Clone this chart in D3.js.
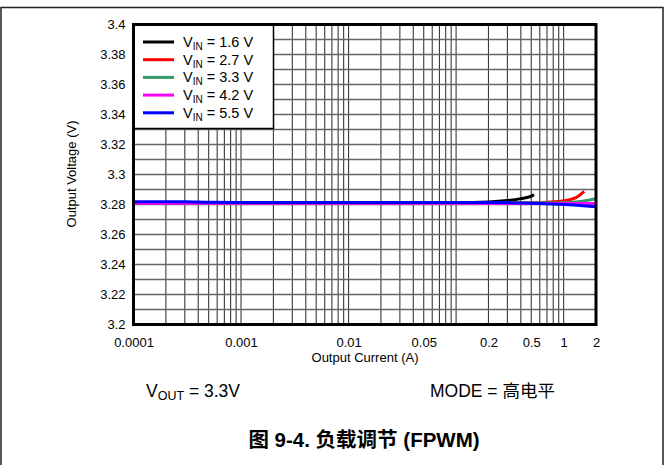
<!DOCTYPE html>
<html>
<head>
<meta charset="utf-8">
<script src="https://cdn.jsdelivr.net/npm/d3@7"></script>
<style>
  body { margin: 0; background: #fff; }
  text { font-family: "Liberation Sans", Arial, "Noto Sans CJK SC", sans-serif; }
  .cjk { font-family: "Liberation Sans", Arial, "Noto Sans CJK SC", sans-serif; }
</style>
</head>
<body>
<svg id="grafico"></svg>
<script>
// dados
const xTicks = [0.0001, 0.001, 0.01, 0.05, 0.2, 0.5, 1, 2];
const xTickLabels = ['0.0001', '0.001', '0.01', '0.05', '0.2', '0.5', '1', '2'];
const yTicks = [3.2, 3.22, 3.24, 3.26, 3.28, 3.3, 3.32, 3.34, 3.36, 3.38, 3.4];
const yTickLabels = ['3.2', '3.22', '3.24', '3.26', '3.28', '3.3', '3.32', '3.34', '3.36', '3.38', '3.4'];
const serieNomes = ['1.6 V', '2.7 V', '3.3 V', '4.2 V', '5.5 V'];
const serieCores = ['#000000', '#ff0000', '#339966', '#ff00ff', '#0000ff'];

const correnteV16 = [0.0001, 0.001, 0.01, 0.1, 0.2, 0.3, 0.4, 0.5, 0.53];
const tensaoV16 = [3.2812, 3.2812, 3.2812, 3.2813, 3.2817, 3.2826, 3.2839, 3.2856, 3.2866];
const correnteV27 = [0.0001, 0.001, 0.01, 0.1, 0.5, 0.7, 1, 1.3, 1.55];
const tensaoV27 = [3.2810, 3.2810, 3.2810, 3.2810, 3.2811, 3.2815, 3.2825, 3.2846, 3.2888];
const correnteV33 = [0.0001, 0.001, 0.01, 0.1, 0.5, 1, 1.5, 2];
const tensaoV33 = [3.2810, 3.2810, 3.2810, 3.2810, 3.2810, 3.2812, 3.2822, 3.2838];
const correnteV42 = [0.0001, 0.001, 0.01, 0.1, 0.5, 1, 2];
const tensaoV42 = [3.2808, 3.2808, 3.2808, 3.2808, 3.2807, 3.2806, 3.2806];
const correnteV55 = [0.0001, 0.0003, 0.0005, 0.001, 0.01, 0.1, 0.2, 0.5, 1, 2];
const tensaoV55 = [3.2818, 3.2818, 3.2815, 3.2814, 3.2814, 3.2814, 3.2813, 3.2809, 3.2800, 3.2785];

const series = [
  { nome: serieNomes[0], cor: serieCores[0], x: correnteV16, y: tensaoV16 },
  { nome: serieNomes[1], cor: serieCores[1], x: correnteV27, y: tensaoV27 },
  { nome: serieNomes[2], cor: serieCores[2], x: correnteV33, y: tensaoV33 },
  { nome: serieNomes[3], cor: serieCores[3], x: correnteV42, y: tensaoV42 },
  { nome: serieNomes[4], cor: serieCores[4], x: correnteV55, y: tensaoV55 }
];

const largura = 666, altura = 465;
const svg = d3.select('#grafico').attr('width', largura).attr('height', altura);

// moldura externa
svg.append('rect')
  .attr('x', 1).attr('y', 7.5).attr('width', 662).attr('height', 470)
  .attr('fill', 'none').attr('stroke', '#222').attr('stroke-width', 1.5);

const margem = { esquerda: 133.5, direita: 596, superior: 24.5, inferior: 324.5 };

const x = d3.scaleLog().domain([0.0001, 2]).range([margem.esquerda, margem.direita]);
const y = d3.scaleLinear().domain([3.2, 3.4]).range([margem.inferior, margem.superior]);

const grade = svg.append('g');

// linhas verticais (log)
const verticais = [];
for (let d = 0.0001; d < 2; d *= 10) {
  for (let m = 1; m <= 9; m++) {
    const v = +(d * m).toPrecision(3);
    if (v > 0.0001 && v < 2) verticais.push(v);
  }
}
grade.selectAll('.vgrid')
  .data(verticais)
  .enter()
  .append('line')
  .attr('x1', d => x(d)).attr('x2', d => x(d))
  .attr('y1', margem.superior).attr('y2', margem.inferior)
  .attr('stroke', '#3a3a3a').attr('stroke-width', 1.1);

// linhas horizontais a cada 0.01
const horizontais = d3.range(1, 20).map(i => 3.2 + i * 0.01);
grade.selectAll('.hgrid')
  .data(horizontais)
  .enter()
  .append('line')
  .attr('x1', margem.esquerda).attr('x2', margem.direita)
  .attr('y1', d => y(d)).attr('y2', d => y(d))
  .attr('stroke', '#666').attr('stroke-width', 1.3);

// eixos
const eixoY = d3.axisLeft(y).tickValues(yTicks).tickSize(0).tickPadding(8)
  .tickFormat((d, i) => yTickLabels[i]);
svg.append('g').attr('transform', `translate(${margem.esquerda},0)`).call(eixoY)
  .call(g => g.select('.domain').remove())
  .selectAll('text').attr('font-size', 13).attr('fill', '#000')
  .style('font-family', '"Liberation Sans", Arial, sans-serif');

const eixoX = d3.axisBottom(x).tickValues(xTicks).tickSize(0).tickPadding(13)
  .tickFormat((d, i) => xTickLabels[i]);
svg.append('g').attr('transform', `translate(0,${margem.inferior})`).call(eixoX)
  .call(g => g.select('.domain').remove())
  .selectAll('text').attr('font-size', 13).attr('fill', '#000')
  .style('font-family', '"Liberation Sans", Arial, sans-serif');

// linhas das series
const linha = d3.line()
  .x(d => x(d[0]))
  .y(d => y(d[1]))
  .curve(d3.curveMonotoneX);

svg.selectAll('.serie')
  .data(series)
  .enter()
  .append('path')
  .attr('d', s => linha(s.x.map((v, i) => [v, s.y[i]])))
  .attr('fill', 'none')
  .attr('stroke', s => s.cor)
  .attr('stroke-width', 3);

// legenda
const legenda = svg.append('g');
legenda.append('rect')
  .attr('x', margem.esquerda).attr('y', margem.superior)
  .attr('width', 140).attr('height', 104)
  .attr('fill', '#fff').attr('stroke', '#000').attr('stroke-width', 1.5);

const itens = legenda.selectAll('.item')
  .data(series)
  .enter()
  .append('g')
  .attr('transform', (d, i) => `translate(0, ${42 + i * 17.7})`);

itens.append('line')
  .attr('x1', 143).attr('x2', 174).attr('y1', 0).attr('y2', 0)
  .attr('stroke', d => d.cor).attr('stroke-width', 3);

const rotulos = itens.append('text')
  .attr('x', 183).attr('y', 5).attr('font-size', 14.5).attr('fill', '#000');
rotulos.append('tspan').text('V');
rotulos.append('tspan').text('IN').attr('font-size', 10).attr('dy', 3);
rotulos.append('tspan').text(d => ' = ' + d.nome).attr('dy', -3);

// borda da area de plotagem
svg.append('rect')
  .attr('x', margem.esquerda).attr('y', margem.superior)
  .attr('width', margem.direita - margem.esquerda).attr('height', margem.inferior - margem.superior)
  .attr('fill', 'none').attr('stroke', '#000').attr('stroke-width', 3);

// titulos dos eixos
svg.append('text')
  .attr('transform', 'translate(76,174) rotate(-90)')
  .attr('text-anchor', 'middle').attr('font-size', 13).text('Output Voltage (V)');
svg.append('text')
  .attr('x', 365).attr('y', 362)
  .attr('text-anchor', 'middle').attr('font-size', 13).text('Output Current (A)');

// anotacoes
const vout = svg.append('text').attr('x', 146).attr('y', 397).attr('font-size', 17.5);
vout.append('tspan').text('V');
vout.append('tspan').text('OUT').attr('font-size', 12.5).attr('dy', 3);
vout.append('tspan').text(' = 3.3V').attr('dy', -3);

svg.append('text').attr('x', 430).attr('y', 397).attr('font-size', 17.5)
  .attr('class', 'cjk').text('MODE = 高电平');

svg.append('text').attr('x', 364).attr('y', 447).attr('font-size', 20.5)
  .attr('font-weight', 'bold').attr('text-anchor', 'middle')
  .attr('class', 'cjk').text('图 9-4. 负载调节 (FPWM)');
</script>
</body>
</html>
